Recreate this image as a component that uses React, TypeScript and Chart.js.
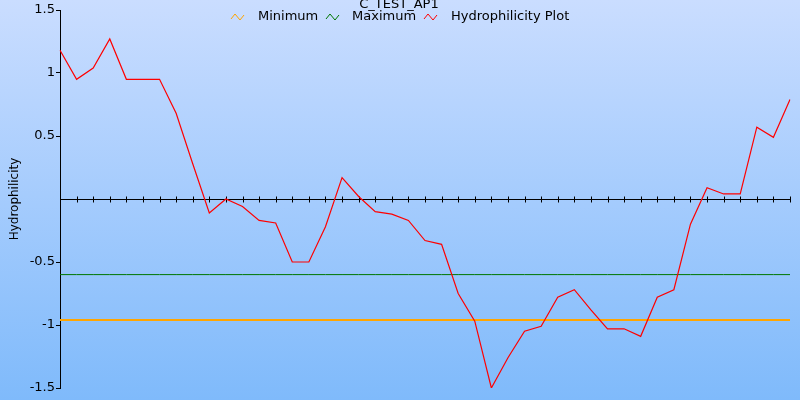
import React, { useEffect, useRef } from "react";
import { Chart, registerables } from "chart.js";

Chart.register(...registerables);

const chartTitle = "C_TEST_AP1";
const yAxisTitle = "Hydrophilicity";
const seriesNames = ["Minimum", "Maximum", "Hydrophilicity Plot"];
const seriesColors = ["#ffa500", "#007700", "#ff0000"];

const positions = [
  1, 2, 3, 4, 5, 6, 7, 8, 9, 10, 11, 12, 13, 14, 15, 16, 17, 18, 19, 20, 21, 22, 23,
  24, 25, 26, 27, 28, 29, 30, 31, 32, 33, 34, 35, 36, 37, 38, 39, 40, 41, 42, 43, 44, 45,
];

const hydrophilicity = [
  1.18, 0.95, 1.04, 1.27, 0.95, 0.95, 0.95, 0.68, 0.28, -0.11, 0.0, -0.06, -0.17, -0.19,
  -0.5, -0.5, -0.22, 0.17, 0.02, -0.1, -0.12, -0.17, -0.33, -0.36, -0.75, -0.97, -1.5,
  -1.26, -1.05, -1.01, -0.78, -0.72, -0.88, -1.03, -1.03, -1.09, -0.78, -0.72, -0.2, 0.09,
  0.04, 0.04, 0.57, 0.49, 0.79,
];

const minimumValue = -0.96;
const maximumValue = -0.6;

const yMin = -1.5;
const yMax = 1.5;
const yStep = 0.5;

const FONT = "'DejaVu Sans', Verdana, sans-serif";

const backgroundPlugin = {
  id: "bgGradient",
  beforeDraw(chart: any) {
    const { ctx, width, height } = chart;
    const g = ctx.createLinearGradient(0, 0, 0, height);
    g.addColorStop(0, "rgb(202,221,255)");
    g.addColorStop(1, "rgb(127,186,251)");
    ctx.save();
    ctx.fillStyle = g;
    ctx.fillRect(0, 0, width, height);
    ctx.restore();
  },
};

const zeroAxisPlugin = {
  id: "zeroAxis",
  beforeDatasetsDraw(chart: any) {
    const { ctx, chartArea } = chart;
    const xs = chart.scales.x;
    const ys = chart.scales.y;
    const y0 = Math.round(ys.getPixelForValue(0)) + 0.5;
    ctx.save();
    ctx.strokeStyle = "#000";
    ctx.lineWidth = 1;
    ctx.beginPath();
    ctx.moveTo(chartArea.left, y0);
    ctx.lineTo(chartArea.right, y0);
    positions.forEach((_, i) => {
      const x = Math.round(xs.getPixelForValue(i)) + 0.5;
      ctx.moveTo(x, y0 - 3);
      ctx.lineTo(x, y0 + 3);
    });
    ctx.stroke();
    ctx.restore();
  },
};

const titleLegendPlugin = {
  id: "titleLegend",
  afterDraw(chart: any) {
    const { ctx } = chart;
    ctx.save();
    ctx.fillStyle = "#000";
    ctx.textBaseline = "middle";
    ctx.font = `13px ${FONT}`;
    ctx.textAlign = "center";
    ctx.fillText(chartTitle, 399, 5);

    ctx.textAlign = "left";
    ctx.font = `13px ${FONT}`;
    const items = [
      { icon: 231, text: 258 },
      { icon: 326, text: 352 },
      { icon: 424, text: 451 },
    ];
    const yc = 17;
    items.forEach((it, i) => {
      ctx.strokeStyle = seriesColors[i];
      ctx.lineWidth = 1;
      ctx.beginPath();
      ctx.moveTo(it.icon, yc + 2);
      ctx.lineTo(it.icon + 4, yc - 3);
      ctx.lineTo(it.icon + 9, yc + 3);
      ctx.lineTo(it.icon + 13, yc - 2);
      ctx.stroke();
      ctx.fillStyle = "#000";
      ctx.fillText(seriesNames[i], it.text, yc);
    });
    ctx.restore();
  },
};

export default function App() {
  const canvasRef = useRef<HTMLCanvasElement | null>(null);

  useEffect(() => {
    const canvas = canvasRef.current;
    if (!canvas) return;
    const chart = new Chart(canvas, {
      type: "line",
      data: {
        labels: positions,
        datasets: [
          {
            label: seriesNames[0],
            data: positions.map(() => minimumValue),
            borderColor: seriesColors[0],
            borderWidth: 2,
            pointRadius: 0,
            tension: 0,
            order: 2,
          },
          {
            label: seriesNames[1],
            data: positions.map(() => maximumValue),
            borderColor: seriesColors[1],
            borderWidth: 1,
            pointRadius: 0,
            tension: 0,
            order: 1,
          },
          {
            label: seriesNames[2],
            data: hydrophilicity,
            borderColor: seriesColors[2],
            borderWidth: 1.2,
            pointRadius: 0,
            tension: 0,
            order: 0,
          },
        ],
      },
      options: {
        responsive: false,
        animation: false,
        layout: { padding: { left: 0, top: 10, right: 10, bottom: 12 } },
        plugins: {
          legend: { display: false },
          title: { display: false },
          tooltip: { enabled: false },
        },
        scales: {
          x: {
            type: "category",
            display: false,
            offset: false,
          },
          y: {
            min: yMin,
            max: yMax,
            afterFit(scale: any) {
              scale.width = 60;
            },
            ticks: {
              stepSize: yStep,
              color: "#000",
              padding: 1,
              font: { family: FONT, size: 13 },
              callback: (v: any) => (Number(v) === 0 ? "" : String(v)),
            },
            grid: {
              drawOnChartArea: false,
              drawTicks: true,
              tickLength: 4,
              tickColor: (c: any) => (c.tick && c.tick.value === 0 ? "rgba(0,0,0,0)" : "#000"),
            },
            border: { display: true, color: "#000", width: 1 },
            title: {
              display: true,
              text: yAxisTitle,
              color: "#000",
              font: { family: FONT, size: 12 },
              padding: { top: 8, bottom: 0 },
            },
          },
        },
      },
      plugins: [backgroundPlugin, zeroAxisPlugin, titleLegendPlugin],
    });
    return () => chart.destroy();
  }, []);

  return (
    <div style={{ position: "fixed", left: 0, top: 0, width: 800, height: 400 }}>
      <canvas ref={canvasRef} width={800} height={400} style={{ display: "block" }} />
    </div>
  );
}
